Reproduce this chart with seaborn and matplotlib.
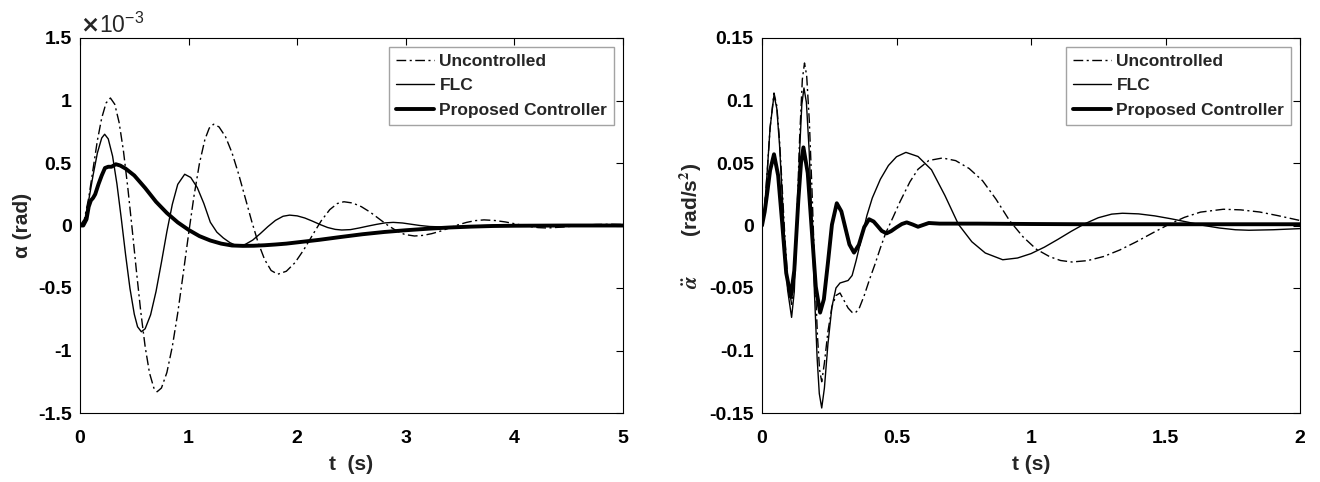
import numpy as np
import pandas as pd
import matplotlib
matplotlib.use("Agg")
import matplotlib.pyplot as plt
from matplotlib.ticker import FuncFormatter, FixedLocator
import seaborn as sns

# ---------------- data (left: alpha, in units of 1e-3 rad) ----------------
t_unc_l = [0, 0.04, 0.08, 0.12, 0.16, 0.20, 0.24, 0.28, 0.32, 0.36, 0.40, 0.44, 0.48, 0.52, 0.56,
           0.60, 0.64, 0.68, 0.71, 0.75, 0.80, 0.85, 0.90, 0.95, 1.00, 1.05, 1.10, 1.15, 1.19,
           1.23, 1.28, 1.34, 1.40, 1.46, 1.52, 1.58, 1.64, 1.70, 1.76, 1.82, 1.90, 1.98, 2.06,
           2.14, 2.22, 2.30, 2.37, 2.43, 2.51, 2.59, 2.67, 2.75, 2.83, 2.91, 2.99, 3.08, 3.16,
           3.24, 3.32, 3.40, 3.48, 3.56, 3.64, 3.72, 3.82, 3.92, 4.02, 4.12, 4.22, 4.30, 4.45,
           4.60, 4.75, 4.90, 5.00]
v_unc_l = [0, 0.05, 0.22, 0.45, 0.68, 0.86, 0.98, 1.02, 0.97, 0.825, 0.597, 0.304, -0.026, -0.368,
           -0.693, -0.97, -1.18, -1.30, -1.33, -1.30, -1.176, -0.969, -0.70, -0.388, -0.067, 0.238,
           0.497, 0.688, 0.779, 0.81, 0.789, 0.71, 0.581, 0.413, 0.226, 0.037, -0.136, -0.272,
           -0.36, -0.39, -0.366, -0.297, -0.195, -0.078, 0.036, 0.127, 0.176, 0.19, 0.18, 0.151,
           0.108, 0.056, 0.004, -0.04, -0.072, -0.084, -0.079, -0.065, -0.045, -0.02, 0.005, 0.025,
           0.039, 0.045, 0.040, 0.028, 0.011, -0.006, -0.017, -0.02, -0.012, 0.0, 0.008, 0.01, 0.008]

t_flc_l = [0, 0.04, 0.08, 0.12, 0.16, 0.20, 0.227, 0.26, 0.30, 0.34, 0.38, 0.42, 0.46, 0.50, 0.53,
           0.565, 0.60, 0.65, 0.70, 0.75, 0.80, 0.85, 0.90, 0.964, 1.02, 1.08, 1.14, 1.20, 1.26,
           1.32, 1.38, 1.45, 1.52, 1.59, 1.66, 1.73, 1.80, 1.87, 1.93, 2.00, 2.07, 2.14, 2.21,
           2.28, 2.35, 2.41, 2.49, 2.57, 2.65, 2.73, 2.81, 2.885, 2.97, 3.05, 3.13, 3.22, 3.35,
           3.60, 3.85, 4.10, 4.50, 5.00]
v_flc_l = [0, 0.03, 0.2, 0.4, 0.58, 0.70, 0.73, 0.693, 0.555, 0.333, 0.057, -0.235, -0.503, -0.71,
           -0.81, -0.85, -0.826, -0.715, -0.528, -0.294, -0.049, 0.169, 0.329, 0.41, 0.384, 0.303,
           0.177, 0.026, -0.053, -0.10, -0.137, -0.165, -0.152, -0.117, -0.065, -0.009, 0.041,
           0.074, 0.083, 0.077, 0.060, 0.035, 0.008, -0.016, -0.031, -0.036, -0.033, -0.02,
           -0.005, 0.009, 0.021, 0.025, 0.02, 0.01, 0.0, -0.008, -0.012, -0.004, 0.003, 0.004,
           0.0, 0.0]

t_pro_l = [0, 0.03, 0.06, 0.08, 0.10, 0.12, 0.14, 0.17, 0.20, 0.23, 0.26, 0.29, 0.33, 0.37, 0.42,
           0.50, 0.60, 0.70, 0.80, 0.90, 1.00, 1.10, 1.20, 1.30, 1.40, 1.50, 1.60, 1.70, 1.80,
           1.90, 2.00, 2.20, 2.40, 2.60, 2.80, 3.00, 3.20, 3.40, 3.60, 3.80, 4.00, 4.50, 5.00]
v_pro_l = [0, 0.0, 0.05, 0.15, 0.20, 0.22, 0.25, 0.33, 0.40, 0.46, 0.47, 0.47, 0.49, 0.48, 0.455,
           0.40, 0.30, 0.19, 0.10, 0.025, -0.035, -0.085, -0.12, -0.145, -0.16, -0.163, -0.162,
           -0.158, -0.152, -0.145, -0.135, -0.115, -0.092, -0.07, -0.052, -0.038, -0.026, -0.016,
           -0.009, -0.004, -0.002, 0.0, 0.0]

# ---------------- data (right: alpha double-dot, rad/s^2) ----------------
t_unc_r = [0, 0.01, 0.02, 0.03, 0.0446, 0.055, 0.065, 0.075, 0.085, 0.095, 0.110, 0.12, 0.13, 0.14,
           0.15, 0.158, 0.166, 0.176, 0.186, 0.196, 0.206, 0.214, 0.222, 0.232, 0.245, 0.26,
           0.275, 0.29, 0.305, 0.32, 0.335, 0.346, 0.36, 0.38, 0.40, 0.42, 0.44, 0.46, 0.488,
           0.513, 0.55, 0.58, 0.62, 0.671, 0.72, 0.77, 0.82, 0.87, 0.92, 0.97, 1.02, 1.07, 1.11,
           1.152, 1.21, 1.27, 1.33, 1.39, 1.45, 1.51, 1.57, 1.63, 1.715, 1.78, 1.85, 1.92, 2.00]
v_unc_r = [0, 0.015, 0.045, 0.078, 0.106, 0.0957, 0.0686, 0.0308, -0.0091, -0.042, -0.063, -0.043,
           0.0085, 0.0705, 0.117, 0.13, 0.120, 0.0833, 0.0274, -0.0345, -0.0876, -0.1153, -0.125,
           -0.11, -0.085, -0.065, -0.056, -0.054, -0.06, -0.066, -0.0695, -0.07, -0.067, -0.056,
           -0.043, -0.031, -0.018, -0.006, 0.007, 0.019, 0.035, 0.045, 0.052, 0.054, 0.0519,
           0.0456, 0.0358, 0.021, 0.004, -0.009, -0.019, -0.025, -0.028, -0.0292, -0.0281,
           -0.0248, -0.0196, -0.0132, -0.0062, 0.0006, 0.0065, 0.0107, 0.013, 0.0125, 0.0108,
           0.0078, 0.004]

t_flc_r = [0, 0.01, 0.02, 0.03, 0.0446, 0.055, 0.065, 0.075, 0.085, 0.095, 0.110, 0.12, 0.13, 0.14,
           0.148, 0.156, 0.165, 0.175, 0.185, 0.195, 0.205, 0.213, 0.222, 0.232, 0.245, 0.26,
           0.275, 0.29, 0.305, 0.32, 0.335, 0.35, 0.37, 0.39, 0.41, 0.44, 0.47, 0.50, 0.535,
           0.58, 0.63, 0.68, 0.73, 0.78, 0.83, 0.895, 0.95, 1.00, 1.05, 1.10, 1.15, 1.20, 1.25,
           1.30, 1.34, 1.40, 1.46, 1.52, 1.58, 1.64, 1.70, 1.76, 1.81, 1.90, 2.00]
v_flc_r = [0, 0.015, 0.045, 0.078, 0.1044, 0.0936, 0.0650, 0.0252, -0.0167, -0.0513, -0.0735,
           -0.0529, -0.0004, 0.0605, 0.0967, 0.11, 0.0985, 0.0611, 0.0064, -0.054, -0.1063,
           -0.1345, -0.146, -0.13, -0.095, -0.065, -0.05, -0.046, -0.045, -0.044, -0.04, -0.028,
           -0.01, 0.008, 0.022, 0.037, 0.048, 0.055, 0.0585, 0.0552, 0.0446, 0.024, 0.001,
           -0.013, -0.022, -0.0274, -0.026, -0.0225, -0.0173, -0.0111, -0.0046, 0.0014, 0.0062,
           0.0091, 0.0098, 0.0093, 0.0077, 0.0054, 0.0028, 0.0001, -0.002, -0.0034, -0.0038,
           -0.0034, -0.0025]

t_pro_r = [0, 0.01, 0.02, 0.03, 0.0446, 0.06, 0.075, 0.09, 0.107, 0.12, 0.135, 0.145, 0.154, 0.17,
           0.185, 0.20, 0.216, 0.23, 0.245, 0.26, 0.278, 0.295, 0.31, 0.325, 0.342, 0.36, 0.38,
           0.398, 0.415, 0.43, 0.445, 0.463, 0.48, 0.50, 0.52, 0.538, 0.56, 0.58, 0.60, 0.62,
           0.66, 0.70, 0.80, 1.00, 1.20, 1.50, 2.00]
v_pro_r = [0, 0.011, 0.027, 0.044, 0.057, 0.040, 0.002, -0.038, -0.057, -0.036, 0.02, 0.05,
           0.0625, 0.042, -0.0036, -0.049, -0.0697, -0.059, -0.030, 0.0007, 0.0178, 0.0113,
           -0.002, -0.0152, -0.0217, -0.0155, -0.0013, 0.005, 0.0032, -0.0005, -0.0043, -0.0063,
           -0.0045, -0.0015, 0.0012, 0.0025, 0.0008, -0.001, 0.0005, 0.002, 0.0015, 0.0015,
           0.0015, 0.0012, 0.001, 0.001, 0.001]

series_names = ["Uncontrolled", "FLC", "Proposed Controller"]
left_yticks = [-1.5, -1, -0.5, 0, 0.5, 1, 1.5]
left_xticks = [0, 1, 2, 3, 4, 5]
right_yticks = [-0.15, -0.1, -0.05, 0, 0.05, 0.1, 0.15]
right_xticks = [0, 0.5, 1, 1.5, 2]

# ---------------- style ----------------
sns.set_style("white")
plt.rcParams["font.family"] = ["Liberation Sans", "DejaVu Sans"]
plt.rcParams["font.weight"] = "bold"

fig = plt.figure(figsize=(13.2, 4.82), dpi=100)
W, H = 1320, 482
axL = fig.add_axes([80 / W, 1 - 413 / H, (623 - 80) / W, (413 - 38) / H])
axR = fig.add_axes([762 / W, 1 - 413 / H, (1300 - 762) / W, (413 - 38) / H])

dashdot = (0, (7, 2.5, 1.5, 2.5))
styles = [dict(lw=1.0, linestyle=dashdot), dict(lw=1.0, linestyle="-"), dict(lw=2.8, linestyle="-")]

def draw(ax, data):
    for (t, v), name, st in zip(data, series_names, styles):
        df = pd.DataFrame({"t": t, "v": v})
        sns.lineplot(data=df, x="t", y="v", ax=ax, color="black", label=name,
                     sort=False, **st)

draw(axL, [(t_unc_l, v_unc_l), (t_flc_l, v_flc_l), (t_pro_l, v_pro_l)])
draw(axR, [(t_unc_r, v_unc_r), (t_flc_r, v_flc_r), (t_pro_r, v_pro_r)])

fmt = FuncFormatter(lambda x, p: ("%g" % x).replace("\u2212", "-"))
for ax, xt, yt, xl in [(axL, left_xticks, left_yticks, (0, 5)), (axR, right_xticks, right_yticks, (0, 2))]:
    ax.set_xlim(*xl)
    ax.set_ylim(yt[0], yt[-1])
    ax.xaxis.set_major_locator(FixedLocator(xt))
    ax.yaxis.set_major_locator(FixedLocator(yt))
    ax.xaxis.set_major_formatter(fmt)
    ax.yaxis.set_major_formatter(fmt)
    ax.tick_params(direction="in", length=5, width=0.8, top=True, right=True,
                   labelsize=14, colors="black")
    ax.tick_params(axis="x", pad=12)
    ax.tick_params(axis="y", pad=6)
    for lab in ax.get_xticklabels() + ax.get_yticklabels():
        lab.set_fontweight("bold")
    for s in ax.spines.values():
        s.set_visible(True)
        s.set_color("black")
        s.set_linewidth(0.8)
    leg = ax.legend(loc="upper right", frameon=True, fancybox=False, handlelength=2.2,
                    prop={"weight": "bold", "size": 12.5}, borderpad=0.4, labelspacing=0.55,
                    handletextpad=0.3, borderaxespad=0.5)
    leg.get_frame().set_edgecolor("#8c8c8c")
    leg.get_frame().set_linewidth(1.0)

axL.set_xlabel("t  (s)", fontsize=15, fontweight="bold", labelpad=6)
axL.set_ylabel("\u03b1 (rad)", fontsize=15, fontweight="bold", labelpad=4)
axR.set_xlabel("t (s)", fontsize=15, fontweight="bold", labelpad=6)
axR.set_ylabel(r"$\ddot{\alpha}$       (rad/s$^\mathbf{2}$)", fontsize=15, fontweight="bold",
               labelpad=4, math_fontfamily="stix")
axL.text(0.0, 1.0, r"$\times\mathregular{10^{-3}}$", transform=axL.transAxes, fontsize=16.5,
         ha="left", va="bottom", math_fontfamily="dejavusans", fontweight="normal")

fig.savefig("out.png", dpi=100)
